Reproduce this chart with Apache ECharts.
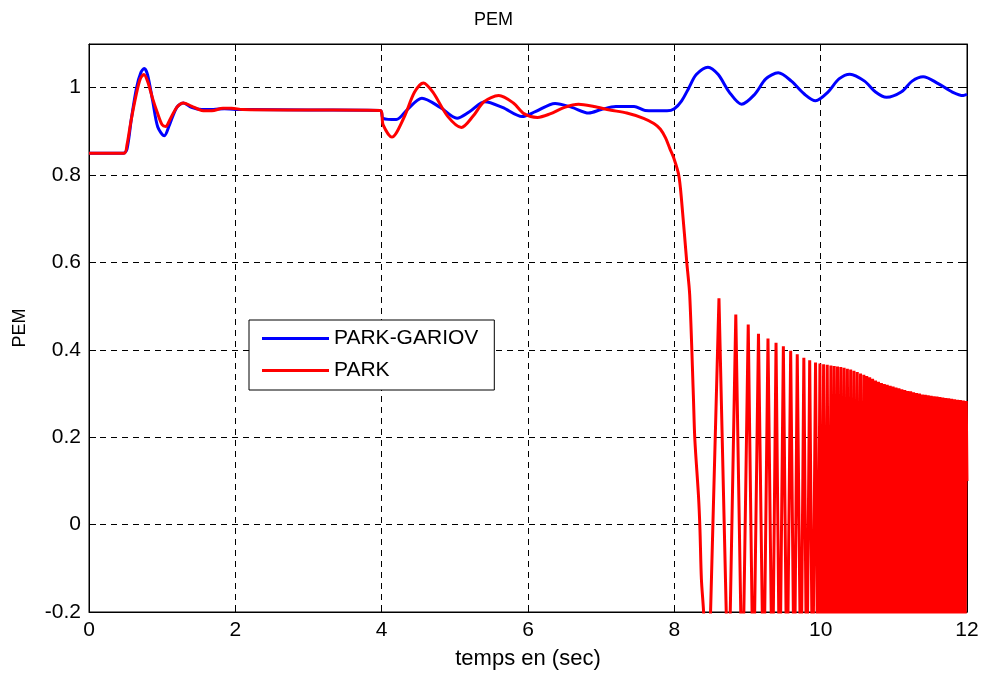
<!DOCTYPE html>
<html>
<head>
<meta charset="utf-8">
<title>PEM</title>
<script src="https://cdn.jsdelivr.net/npm/echarts@6/dist/echarts.min.js"></script>
<style>
    html, body { margin: 0; padding: 0; background: #fff; }
    #chart { width: 982px; height: 675px; }
</style>
</head>
<body>
<div id="chart"></div>
<script>
// PEM (puissance electromagnetique) vs temps, PARK-GARIOV / PARK

var FONT = '"Liberation Sans", Arial, Helvetica, sans-serif';

// [temps (s), PEM]
var parkGariov = [
    [0, 0.85], [0.47, 0.85], [0.52, 0.86], [0.58, 0.93], [0.65, 1.0], [0.71, 1.035], [0.755, 1.044],
    [0.8, 1.03], [0.87, 0.97], [0.94, 0.91], [1.03, 0.89], [1.1, 0.915], [1.2, 0.955], [1.29, 0.965],
    [1.4, 0.955], [1.54, 0.95], [1.7, 0.95], [1.85, 0.952], [2.0, 0.95], [2.2, 0.95], [3.0, 0.949],
    [3.98, 0.948], [4.02, 0.93], [4.2, 0.927], [4.35, 0.95], [4.55, 0.976], [4.8, 0.955], [5.03, 0.93],
    [5.2, 0.945], [5.41, 0.968], [5.65, 0.955], [5.92, 0.934], [6.1, 0.945], [6.37, 0.964], [6.6, 0.955],
    [6.83, 0.942], [7.0, 0.95], [7.2, 0.957], [7.45, 0.957], [7.6, 0.948], [7.9, 0.947], [8.0, 0.952],
    [8.1, 0.97], [8.2, 1.0], [8.3, 1.03], [8.46, 1.047], [8.6, 1.03], [8.75, 0.99], [8.92, 0.962],
    [9.1, 0.985], [9.25, 1.02], [9.42, 1.034], [9.6, 1.015], [9.78, 0.985], [9.93, 0.97], [10.1, 0.99],
    [10.25, 1.02], [10.4, 1.031], [10.6, 1.015], [10.75, 0.99], [10.9, 0.978], [11.1, 0.99],
    [11.25, 1.015], [11.4, 1.025], [11.6, 1.01], [11.8, 0.99], [11.95, 0.982], [12, 0.985]
];

// PARK avant la perte de synchronisme
var parkRegime = [
    [0, 0.85], [0.48, 0.85], [0.52, 0.87], [0.57, 0.92], [0.64, 0.98], [0.7, 1.02], [0.75, 1.03],
    [0.8, 1.015], [0.87, 0.975], [0.93, 0.945], [1.0, 0.915], [1.05, 0.911], [1.1, 0.925], [1.2, 0.955],
    [1.29, 0.965], [1.4, 0.958], [1.54, 0.948], [1.68, 0.947], [1.83, 0.953], [1.95, 0.953], [2.1, 0.95],
    [3.0, 0.949], [3.98, 0.948], [4.02, 0.915], [4.14, 0.887], [4.3, 0.93], [4.45, 0.99], [4.57, 1.011],
    [4.7, 0.99], [4.9, 0.935], [5.09, 0.909], [5.25, 0.935], [5.4, 0.968], [5.6, 0.982], [5.8, 0.965],
    [5.95, 0.94], [6.13, 0.932], [6.3, 0.94], [6.5, 0.955], [6.69, 0.962], [6.9, 0.957], [7.12, 0.949],
    [7.35, 0.942], [7.58, 0.93], [7.72, 0.918], [7.81, 0.905], [7.88, 0.885], [7.94, 0.86], [7.99, 0.84],
    [8.06, 0.8], [8.1, 0.74], [8.17, 0.6], [8.21, 0.526], [8.26, 0.296], [8.28, 0.196], [8.33, 0.066],
    [8.35, -0.01], [8.37, -0.125], [8.4, -0.2], [8.46, -0.42]
];

// PARK apres 8.46 s : oscillations (creux sous -0.2, coupes par l'axe)
var slipTroughT = [8.46, 8.74, 8.93, 9.08, 9.22, 9.34, 9.44, 9.54, 9.64, 9.73, 9.81, 9.89, 9.96,
    10.015, 10.065, 10.115, 10.16, 10.21, 10.25, 10.30, 10.34, 10.39, 10.43, 10.48, 10.52, 10.57,
    10.61, 10.65, 10.69, 10.73, 10.77, 10.81, 10.85, 10.89, 10.93, 10.97, 11.01, 11.05, 11.09, 11.13,
    11.17, 11.21, 11.25, 11.29, 11.33, 11.37, 11.41, 11.45, 11.49, 11.53, 11.57, 11.61, 11.65, 11.69,
    11.73, 11.77, 11.81, 11.85, 11.89, 11.93, 11.97];
var slipTroughV = -0.42;
var slipPeakT = [8.61, 8.84, 9.01, 9.15, 9.28, 9.39, 9.49, 9.59, 9.68, 9.77, 9.85, 9.93, 9.99,
    10.04, 10.09, 10.14, 10.185, 10.23, 10.275, 10.32, 10.365, 10.41, 10.455, 10.50, 10.545, 10.59,
    10.63, 10.67, 10.71, 10.75, 10.79, 10.83, 10.87, 10.91, 10.95, 10.99, 11.03, 11.07, 11.11, 11.15,
    11.19, 11.23, 11.27, 11.31, 11.35, 11.39, 11.43, 11.47, 11.51, 11.55, 11.59, 11.63, 11.67, 11.71,
    11.75, 11.79, 11.83, 11.87, 11.91, 11.95, 11.99];
var slipPeakV = [0.518, 0.481, 0.458, 0.437, 0.426, 0.416, 0.408, 0.398, 0.390, 0.382,
    0.376, 0.371, 0.369, 0.367, 0.366, 0.364, 0.363, 0.362, 0.361, 0.359,
    0.357, 0.355, 0.352, 0.349, 0.346, 0.343, 0.340, 0.337, 0.334, 0.330,
    0.327, 0.324, 0.322, 0.320, 0.318, 0.316, 0.314, 0.312, 0.310, 0.308,
    0.306, 0.305, 0.303, 0.301, 0.300, 0.298, 0.297, 0.296, 0.295, 0.294,
    0.293, 0.292, 0.291, 0.290, 0.289, 0.288, 0.287, 0.286, 0.285, 0.284, 0.283];
var slipEnd = [12, 0.1];

var parkSlip = [];
for (var i = 0; i < slipTroughT.length; i++) {
    parkSlip.push([slipTroughT[i], slipTroughV]);
    if (i < slipPeakT.length) {
        parkSlip.push([slipPeakT[i], slipPeakV[i]]);
    }
}
parkSlip.push(slipEnd);

var chart = echarts.init(document.getElementById('chart'), null, {renderer: 'canvas'});

var gridDash = {color: '#000', width: 1, type: [6, 5]};

function xAxisBase(pos) {
    return {
        type: 'value', min: 0, max: 12, interval: 2, position: pos,
        axisLine: {show: true, onZero: false, lineStyle: {color: '#000', width: 1}},
        axisTick: {show: true, inside: true, length: 7, lineStyle: {color: '#000'}},
        axisLabel: {show: pos === 'bottom', color: '#000', fontSize: 21, fontFamily: FONT, margin: 8},
        splitLine: {show: pos === 'bottom', lineStyle: gridDash}
    };
}

function yAxisBase(pos) {
    return {
        type: 'value', min: -0.2, max: 1.1, interval: 0.2, position: pos,
        axisLine: {show: true, onZero: false, lineStyle: {color: '#000', width: 1}},
        axisTick: {show: true, inside: true, length: 7, lineStyle: {color: '#000'}},
        axisLabel: {show: pos === 'left', color: '#000', fontSize: 21, fontFamily: FONT, margin: 8,
            showMaxLabel: false},
        splitLine: {show: pos === 'left', lineStyle: gridDash}
    };
}

var xBottom = xAxisBase('bottom');
xBottom.name = 'temps en (sec)';
xBottom.nameLocation = 'middle';
xBottom.nameGap = 36;
xBottom.nameTextStyle = {color: '#000', fontSize: 22, fontFamily: FONT};

var yLeft = yAxisBase('left');
yLeft.name = 'PEM';
yLeft.nameLocation = 'middle';
yLeft.nameGap = 60;
yLeft.nameTextStyle = {color: '#000', fontSize: 18, fontFamily: FONT};

var option = {
    backgroundColor: '#fff',
    animation: false,
    title: {
        text: 'PEM',
        left: 469,
        top: 6,
        textStyle: {color: '#000', fontSize: 18, fontWeight: 'normal', fontFamily: FONT}
    },
    grid: {
        left: 89, right: 15, top: 44, bottom: 63,
        show: true, borderColor: '#000', borderWidth: 1, backgroundColor: '#fff'
    },
    legend: {
        orient: 'vertical',
        left: 249,
        top: 320,
        data: [
            {name: 'PARK-GARIOV', icon: 'rect'},
            {name: 'PARK', icon: 'rect'}
        ],
        itemWidth: 67,
        itemHeight: 3,
        itemGap: 11,
        padding: [8, 16, 9, 13],
        borderColor: '#000',
        borderWidth: 1,
        borderRadius: 0,
        backgroundColor: '#fff',
        selectedMode: false,
        textStyle: {color: '#000', fontSize: 21, fontFamily: FONT}
    },
    xAxis: [xBottom, xAxisBase('top')],
    yAxis: [yLeft, yAxisBase('right')],
    series: [
        {
            name: 'PARK-GARIOV', type: 'line', data: parkGariov,
            symbol: 'none', showSymbol: false, smooth: 0.3,
            lineStyle: {color: '#0000ff', width: 3}, itemStyle: {color: '#0000ff'}
        },
        {
            name: 'PARK', type: 'line', data: parkRegime,
            symbol: 'none', showSymbol: false, smooth: 0.3,
            lineStyle: {color: '#ff0000', width: 3}, itemStyle: {color: '#ff0000'}
        },
        {
            name: 'PARK', type: 'line', data: parkSlip,
            symbol: 'none', showSymbol: false, smooth: false,
            lineStyle: {color: '#ff0000', width: 3}, itemStyle: {color: '#ff0000'}
        }
    ]
};

chart.setOption(option);
</script>
</body>
</html>
